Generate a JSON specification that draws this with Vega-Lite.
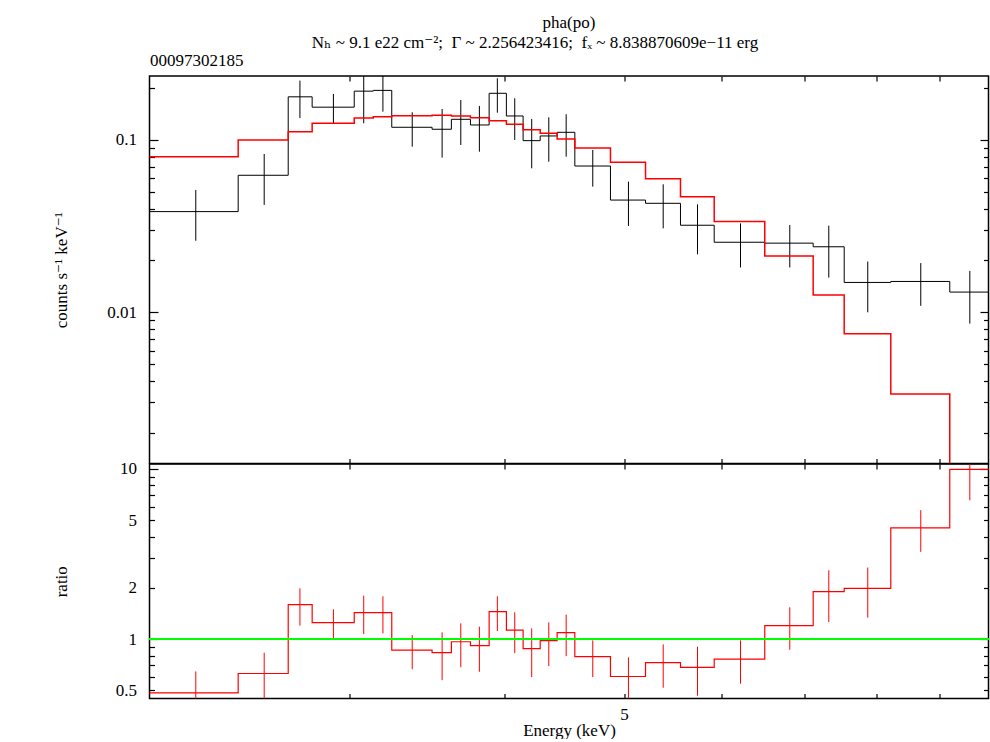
{
  "$schema": "https://vega.github.io/schema/vega-lite/v6.json",
  "padding": {"left": 51.5, "top": 14, "right": 3, "bottom": 0},
  "background": "white",
  "title": {
    "text": "pha(po)",
    "anchor": "middle", "frame": "group",
    "font": "Liberation Serif, Times New Roman, DejaVu Serif, serif", "fontSize": 17, "fontWeight": "normal", "color": "black",
    "offset": 1
  },
  "config": {
    "view": {"stroke": "black", "strokeWidth": 1.5},
    "font": "Liberation Serif, Times New Roman, DejaVu Serif, serif",
    "axis": {
      "labelFont": "Liberation Serif, Times New Roman, DejaVu Serif, serif", "labelFontSize": 17, "labelColor": "black",
      "titleFont": "Liberation Serif, Times New Roman, DejaVu Serif, serif", "titleFontSize": 17, "titleFontWeight": "normal", "titleColor": "black",
      "tickColor": "black", "tickWidth": 1.2, "domain": false, "grid": false,
      "labelFlush": false, "labelOverlap": false, "labelBound": false
    }
  },
  "datasets": {
    "bins": [
      {"bin":1,"e1":2.06,"e2":2.437,"em":2.252,"d":0.0384,"dlo":0.0260,"dhi":0.0513,"m":0.0800,"r":0.484,"rlo":0.33,"rhi":0.646},
      {"bin":2,"e1":2.437,"e2":2.675,"em":2.558,"d":0.0624,"dlo":0.0420,"dhi":0.0829,"m":0.1000,"r":0.628,"rlo":0.42,"rhi":0.832},
      {"bin":3,"e1":2.675,"e2":2.797,"em":2.734,"d":0.178,"dlo":0.134,"dhi":0.221,"m":0.1117,"r":1.594,"rlo":1.199,"rhi":1.987},
      {"bin":4,"e1":2.797,"e2":3.025,"em":2.910,"d":0.155,"dlo":0.125,"dhi":0.185,"m":0.125,"r":1.249,"rlo":1.005,"rhi":1.495},
      {"bin":5,"e1":3.025,"e2":3.134,"em":3.079,"d":0.192,"dlo":0.125,"dhi":0.25,"m":0.1342,"r":1.43,"rlo":1.07,"rhi":1.8},
      {"bin":6,"e1":3.134,"e2":3.244,"em":3.191,"d":0.194,"dlo":0.146,"dhi":0.26,"m":0.1365,"r":1.43,"rlo":1.08,"rhi":1.783},
      {"bin":7,"e1":3.244,"e2":3.497,"em":3.370,"d":0.1185,"dlo":0.0914,"dhi":0.1448,"m":0.1384,"r":0.862,"rlo":0.666,"rhi":1.056},
      {"bin":8,"e1":3.497,"e2":3.625,"em":3.563,"d":0.1154,"dlo":0.079,"dhi":0.1514,"m":0.1391,"r":0.832,"rlo":0.574,"rhi":1.095},
      {"bin":9,"e1":3.625,"e2":3.756,"em":3.689,"d":0.1318,"dlo":0.0935,"dhi":0.1707,"m":0.1378,"r":0.965,"rlo":0.684,"rhi":1.237},
      {"bin":10,"e1":3.756,"e2":3.889,"em":3.819,"d":0.1222,"dlo":0.0855,"dhi":0.1576,"m":0.1347,"r":0.915,"rlo":0.643,"rhi":1.183},
      {"bin":11,"e1":3.889,"e2":4.016,"em":3.949,"d":0.1866,"dlo":0.144,"dhi":0.228,"m":0.1294,"r":1.449,"rlo":1.114,"rhi":1.783},
      {"bin":12,"e1":4.016,"e2":4.143,"em":4.079,"d":0.1378,"dlo":0.1,"dhi":0.1746,"m":0.1233,"r":1.13,"rlo":0.827,"rhi":1.436},
      {"bin":13,"e1":4.143,"e2":4.277,"em":4.210,"d":0.0991,"dlo":0.0685,"dhi":0.1324,"m":0.1148,"r":0.878,"rlo":0.598,"rhi":1.156},
      {"bin":14,"e1":4.277,"e2":4.414,"em":4.346,"d":0.1055,"dlo":0.0748,"dhi":0.1354,"m":0.1094,"r":0.979,"rlo":0.694,"rhi":1.254},
      {"bin":15,"e1":4.414,"e2":4.562,"em":4.489,"d":0.1108,"dlo":0.08,"dhi":0.141,"m":0.1013,"r":1.091,"rlo":0.794,"rhi":1.392},
      {"bin":16,"e1":4.562,"e2":4.875,"em":4.717,"d":0.0706,"dlo":0.0536,"dhi":0.0875,"m":0.0899,"r":0.788,"rlo":0.598,"rhi":0.983},
      {"bin":17,"e1":4.875,"e2":5.204,"em":5.041,"d":0.0448,"dlo":0.0317,"dhi":0.0573,"m":0.0742,"r":0.603,"rlo":0.43,"rhi":0.781},
      {"bin":18,"e1":5.204,"e2":5.554,"em":5.378,"d":0.0429,"dlo":0.0307,"dhi":0.0553,"m":0.0596,"r":0.727,"rlo":0.518,"rhi":0.931},
      {"bin":19,"e1":5.554,"e2":5.914,"em":5.733,"d":0.0320,"dlo":0.0217,"dhi":0.0423,"m":0.0469,"r":0.682,"rlo":0.465,"rhi":0.902},
      {"bin":20,"e1":5.914,"e2":6.498,"em":6.211,"d":0.0255,"dlo":0.0182,"dhi":0.0328,"m":0.0336,"r":0.763,"rlo":0.547,"rhi":0.983},
      {"bin":21,"e1":6.498,"e2":7.111,"em":6.808,"d":0.0252,"dlo":0.0182,"dhi":0.0321,"m":0.0212,"r":1.199,"rlo":0.866,"rhi":1.536},
      {"bin":22,"e1":7.111,"e2":7.534,"em":7.321,"d":0.0240,"dlo":0.0159,"dhi":0.0318,"m":0.0126,"r":1.9,"rlo":1.259,"rhi":2.536},
      {"bin":23,"e1":7.534,"e2":8.217,"em":7.872,"d":0.0149,"dlo":0.0100,"dhi":0.0197,"m":0.00751,"r":1.987,"rlo":1.336,"rhi":2.63},
      {"bin":24,"e1":8.217,"e2":9.171,"em":8.689,"d":0.0151,"dlo":0.0109,"dhi":0.0193,"m":0.00336,"r":4.497,"rlo":3.25,"rhi":5.716},
      {"bin":25,"e1":9.171,"e2":9.87,"em":9.52,"d":0.0131,"dlo":0.0086,"dhi":0.0174,"m":0.0012,"r":9.92,"rlo":6.52,"rhi":13.2}
    ]
  },
  "spacing": 0,
  "bounds": "flush",
  "vconcat": [
    {
      "width": 839,
      "height": 387.5,
      "title": {
        "text": "Nₕ ~ 9.1 e22 cm⁻²;\u00a0 Γ ~ 2.256423416;\u00a0 fₓ ~ 8.838870609e−11 erg",
        "anchor": "middle", "frame": "group", "dx": -34,
        "font": "Liberation Serif, Times New Roman, DejaVu Serif, serif", "fontSize": 17, "fontWeight": "normal", "color": "black",
        "offset": -1
      },
      "data": {"name": "bins"},
      "layer": [
        {
          "transform": [{"fold": ["e1", "e2"], "as": ["k", "E"]}],
          "mark": {"type": "line", "color": "black", "strokeWidth": 1, "clip": true},
          "encoding": {
            "x": {"field": "E", "type": "quantitative",
              "scale": {"type": "log", "domain": [2.066, 9.857], "nice": false, "zero": false},
              "axis": {"orient": "bottom", "values": [3,4,5,6,7,8,9], "labels": false, "tickSize": -5, "title": null}},
            "y": {"field": "d", "type": "quantitative",
              "scale": {"type": "log", "domain": [0.001326, 0.2351], "nice": false, "zero": false},
              "axis": {"orient": "left",
                "values": [0.002,0.003,0.004,0.005,0.006,0.007,0.008,0.009,0.01,0.02,0.03,0.04,0.05,0.06,0.07,0.08,0.09,0.1,0.2],
                "labelExpr": "datum.value == 0.1 ? '0.1' : (datum.value == 0.01 ? '0.01' : '')",
                "tickSize": {"condition": {"test": "datum.value == 0.1 || datum.value == 0.01", "value": -8.5}, "value": -5},
                "labelPadding": 21.5,
                "title": "counts s⁻¹ keV⁻¹", "titleX": -88, "titleY": 193.75, "titleAngle": -90,
                "titleAlign": "center", "titleBaseline": "middle"}},
            "order": [{"field": "bin", "type": "quantitative"}, {"field": "k", "type": "nominal"}]
          }
        },
        {
          "mark": {"type": "rule", "color": "black", "strokeWidth": 1, "clip": true},
          "encoding": {
            "x": {"field": "em", "type": "quantitative",
              "scale": {"type": "log", "domain": [2.066, 9.857], "nice": false, "zero": false},
              "axis": {"orient": "top", "values": [3,4,5,6,7,8,9], "labels": false, "tickSize": -5,
                "title": "00097302185", "titleX": 0, "titleY": -11, "titleAlign": "left", "titleBaseline": "alphabetic", "titleAngle": 0}},
            "y": {"field": "dlo", "type": "quantitative",
              "scale": {"type": "log", "domain": [0.001326, 0.2351], "nice": false, "zero": false},
              "axis": {"orient": "right",
                "values": [0.002,0.003,0.004,0.005,0.006,0.007,0.008,0.009,0.01,0.02,0.03,0.04,0.05,0.06,0.07,0.08,0.09,0.1,0.2],
                "labels": false,
                "tickSize": {"condition": {"test": "datum.value == 0.1 || datum.value == 0.01", "value": -8.5}, "value": -5},
                "title": null}},
            "y2": {"field": "dhi"}
          }
        },
        {
          "transform": [{"fold": ["e1", "e2"], "as": ["k", "E"]}],
          "mark": {"type": "line", "color": "#ff0000", "strokeWidth": 1.5, "clip": true},
          "encoding": {
            "x": {"field": "E", "type": "quantitative",
              "scale": {"type": "log", "domain": [2.066, 9.857], "nice": false, "zero": false}, "axis": null},
            "y": {"field": "m", "type": "quantitative",
              "scale": {"type": "log", "domain": [0.001326, 0.2351], "nice": false, "zero": false}, "axis": null},
            "order": [{"field": "bin", "type": "quantitative"}, {"field": "k", "type": "nominal"}]
          }
        }
      ],
      "resolve": {"axis": {"x": "independent", "y": "independent"}}
    },
    {
      "width": 839,
      "height": 234.5,
      "data": {"name": "bins"},
      "layer": [
        {
          "transform": [{"fold": ["e1", "e2"], "as": ["k", "E"]}],
          "mark": {"type": "line", "color": "#ff0000", "strokeWidth": 1.2, "clip": true},
          "encoding": {
            "x": {"field": "E", "type": "quantitative",
              "scale": {"type": "log", "domain": [2.066, 9.857], "nice": false, "zero": false},
              "axis": {"orient": "bottom", "values": [3,4,5,6,7,8,9],
                "labelExpr": "datum.value == 5 ? '5' : ''", "tickSize": -5, "labelPadding": 12.5,
                "title": "Energy (keV)", "titlePadding": 0}},
            "y": {"field": "r", "type": "quantitative",
              "scale": {"type": "log", "domain": [0.448, 10.66], "nice": false, "zero": false},
              "axis": {"orient": "left",
                "values": [0.5,0.6,0.7,0.8,0.9,1,2,3,4,5,6,7,8,9,10],
                "labelExpr": "(datum.value == 0.5 || datum.value == 1 || datum.value == 2 || datum.value == 5 || datum.value == 10) ? '' + datum.value : ''",
                "tickSize": {"condition": {"test": "datum.value == 1 || datum.value == 10", "value": -8.5}, "value": -5},
                "labelPadding": {"condition": {"test": "datum.value == 1 || datum.value == 10", "value": 21.5}, "value": 18},
                "title": "ratio", "titleX": -88, "titleY": 117.25, "titleAngle": -90,
                "titleAlign": "center", "titleBaseline": "middle"}},
            "order": [{"field": "bin", "type": "quantitative"}, {"field": "k", "type": "nominal"}]
          }
        },
        {
          "mark": {"type": "rule", "color": "#ff0000", "strokeWidth": 1, "clip": true},
          "encoding": {
            "x": {"field": "em", "type": "quantitative",
              "scale": {"type": "log", "domain": [2.066, 9.857], "nice": false, "zero": false},
              "axis": {"orient": "top", "values": [3,4,5,6,7,8,9], "labels": false, "tickSize": -5, "title": null}},
            "y": {"field": "rlo", "type": "quantitative",
              "scale": {"type": "log", "domain": [0.448, 10.66], "nice": false, "zero": false},
              "axis": {"orient": "right",
                "values": [0.5,0.6,0.7,0.8,0.9,1,2,3,4,5,6,7,8,9,10],
                "labels": false,
                "tickSize": {"condition": {"test": "datum.value == 1 || datum.value == 10", "value": -8.5}, "value": -5},
                "title": null}},
            "y2": {"field": "rhi"}
          }
        },
        {
          "mark": {"type": "rule", "color": "#00ff00", "strokeWidth": 2},
          "encoding": {
            "y": {"datum": 1, "type": "quantitative",
              "scale": {"type": "log", "domain": [0.448, 10.66], "nice": false, "zero": false}, "axis": null}
          }
        }
      ],
      "resolve": {"axis": {"x": "independent", "y": "independent"}}
    }
  ]
}
